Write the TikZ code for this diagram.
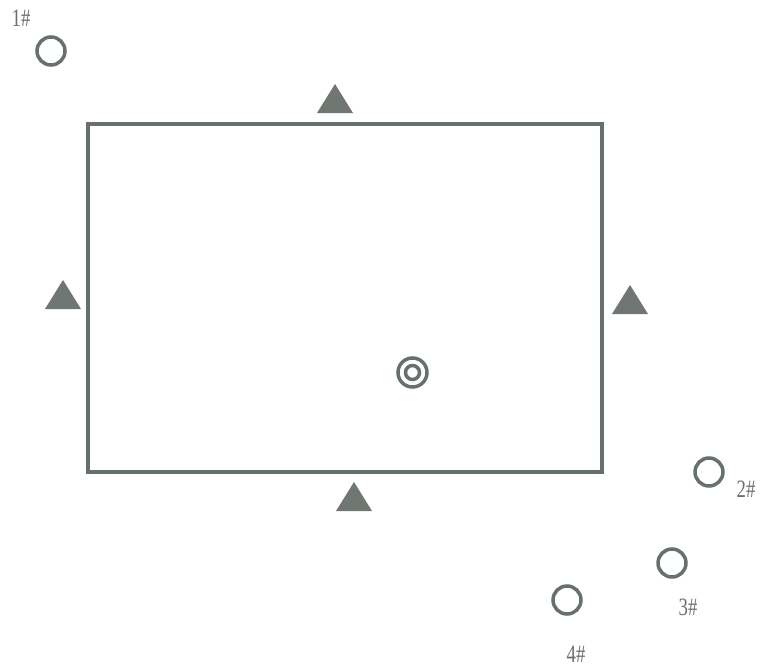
\documentclass[tikz,border=0pt]{standalone}
\usepackage{fontspec}
\setmainfont{Liberation Serif}
\usetikzlibrary{calc}
\definecolor{linec}{RGB}{104,112,108}
\definecolor{tric}{RGB}{112,118,114}
\definecolor{txtc}{RGB}{110,110,110}
\begin{document}
\begin{tikzpicture}[x=1pt,y=-1pt,
  wall/.style={draw=linec, line width=3.5pt},
  tri/.style={fill=tric, draw=none},
  well/.style={circle, draw=linec, line width=3.5pt, minimum size=28pt, inner sep=0pt},
  ring/.style={circle, draw=linec, line width=3.5pt, inner sep=0pt},
  lbl/.style={font=\fontsize{25}{27}\selectfont, text=txtc, inner sep=0pt, xscale=0.75}]
\useasboundingbox (0,0) rectangle (760,669);
\draw[wall] (88,124) rectangle (602,472);
\coordinate (T1) at (335,99);
\coordinate (T2) at (63,295);
\coordinate (T3) at (630,300);
\coordinate (T4) at (354,497);
\foreach \c in {T1,T2,T3,T4}{
  \fill[tri] ($(\c)+(-18,14)$) -- ($(\c)+(0,-15)$) -- ($(\c)+(18,14)$) -- cycle;
}
\node[well] (w1) at (51,51) {};
\node[well] (w2) at (709,472) {};
\node[well] (w3) at (672,563) {};
\node[well] (w4) at (567,600) {};
\node[lbl] (l1) at (21,18) {1\#};
\node[lbl] (l2) at (746,489) {2\#};
\node[lbl] (l3) at (688,607) {3\#};
\node[lbl] (l4) at (576,654) {4\#};
\node[ring, minimum size=29pt] (t) at (412.5,372.5) {};
\node[ring, minimum size=14pt] (ti) at (412.5,372.5) {};
\end{tikzpicture}
\end{document}
